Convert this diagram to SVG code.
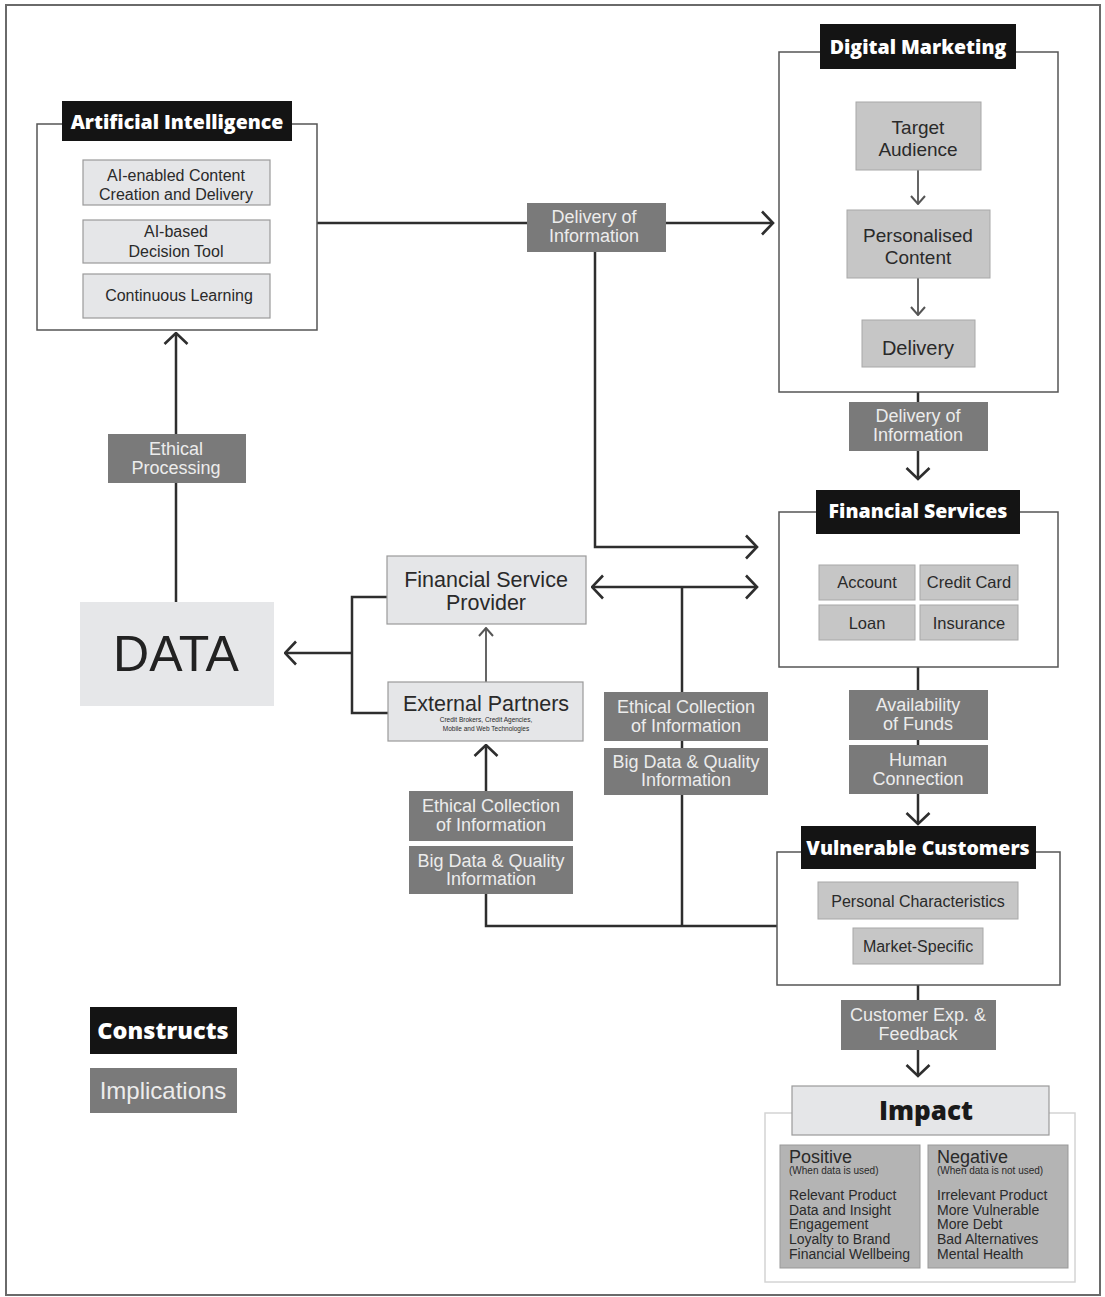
<svg xmlns="http://www.w3.org/2000/svg" width="1105" height="1297" viewBox="0 0 1105 1297">
<style>
.title{fill:#141414}
.tt{font-family:"Open Sans","DejaVu Sans",sans-serif;font-weight:800;fill:#fff;text-anchor:middle}
.frame{fill:none;stroke:#555;stroke-width:1.5}
.lite{fill:#e5e6e8;stroke:#9a9a9a;stroke-width:1.2}
.mid{fill:#c6c6c6;stroke:#a8a8a8;stroke-width:1}
.imp{fill:#7a7a7a}
.it{font-family:"Liberation Sans",Arial,sans-serif;fill:#ececec;text-anchor:middle}
.dt{font-family:"Liberation Sans",Arial,sans-serif;fill:#2a2a2a;text-anchor:middle}
.lt{font-family:"Liberation Sans",Arial,sans-serif;fill:#2a2a2a}
.con{fill:none;stroke:#2e2e2e;stroke-width:2.5}
.cons{fill:none;stroke:#555;stroke-width:1.8}
</style>
<defs>
<marker id="arr" viewBox="0 0 14 26" refX="12.5" refY="13" markerWidth="14" markerHeight="26" markerUnits="userSpaceOnUse" orient="auto-start-reverse">
<path d="M1.5,1.5 L12.5,13 L1.5,24.5" fill="none" stroke="#2e2e2e" stroke-width="2.6"/>
</marker>
<marker id="arrs" viewBox="0 0 10 16" refX="9" refY="8" markerWidth="10" markerHeight="16" markerUnits="userSpaceOnUse" orient="auto">
<path d="M1,1 L9,8 L1,15" fill="none" stroke="#555" stroke-width="2"/>
</marker>
</defs>
<rect x="0" y="0" width="1105" height="1297" fill="#fff"/>
<rect x="6" y="5" width="1094" height="1290" fill="none" stroke="#6a6a6a" stroke-width="2"/>

<g id="connectors">
<path class="con" d="M317,223 H773" marker-end="url(#arr)"/>
<path class="con" d="M595,252 V547 H757" marker-end="url(#arr)"/>
<path class="con" d="M918,392 V479" marker-end="url(#arr)"/>
<path class="con" d="M918,667 V824" marker-end="url(#arr)"/>
<path class="con" d="M918,985 V1076" marker-end="url(#arr)"/>
<path class="con" d="M176,602 V333" marker-end="url(#arr)"/>
<path class="con" d="M387,597 H352 V713 H388"/>
<path class="con" d="M352,653 H285" marker-end="url(#arr)"/>
<path class="cons" d="M486,682 V628" marker-end="url(#arrs)"/>
<path class="con" d="M592,587 H757" marker-start="url(#arr)" marker-end="url(#arr)"/>
<path class="con" d="M682,587 V926"/>
<path class="con" d="M486,791 V745" marker-end="url(#arr)"/>
<path class="con" d="M486,894 V926 H777"/>
<path class="cons" d="M918,170 V204" marker-end="url(#arrs)"/>
<path class="cons" d="M918,278 V315" marker-end="url(#arrs)"/>
</g>

<g id="artificial-intelligence">
<rect class="frame" x="37" y="124" width="280" height="206"/>
<rect class="title" x="62" y="101" width="230" height="40"/>
<text class="tt" x="177" y="129" font-size="19.5">Artificial Intelligence</text>
<rect class="lite" x="83" y="160" width="187" height="45"/>
<text class="dt" x="176" y="181" font-size="16">AI-enabled Content</text>
<text class="dt" x="176" y="200" font-size="16">Creation and Delivery</text>
<rect class="lite" x="83" y="220" width="187" height="43"/>
<text class="dt" x="176" y="237" font-size="16">AI-based</text>
<text class="dt" x="176" y="257" font-size="16">Decision Tool</text>
<rect class="lite" x="83" y="274" width="187" height="44"/>
<text class="dt" x="179" y="301" font-size="16">Continuous Learning</text>
</g>

<g id="delivery-info-1">
<rect class="imp" x="527" y="203" width="139" height="49"/>
<text class="it" x="594" y="223" font-size="18">Delivery of</text>
<text class="it" x="594" y="242" font-size="18">Information</text>
</g>

<g id="digital-marketing">
<rect class="frame" x="779" y="52" width="279" height="340"/>
<rect class="title" x="820" y="24" width="196" height="45"/>
<text class="tt" x="918" y="54" font-size="19.5">Digital Marketing</text>
<rect class="mid" x="856" y="102" width="125" height="68"/>
<text class="dt" x="918" y="134" font-size="19">Target</text>
<text class="dt" x="918" y="156" font-size="19">Audience</text>
<rect class="mid" x="847" y="210" width="143" height="68"/>
<text class="dt" x="918" y="242" font-size="19">Personalised</text>
<text class="dt" x="918" y="264" font-size="19">Content</text>
<rect class="mid" x="862" y="320" width="113" height="47"/>
<text class="dt" x="918" y="355" font-size="20">Delivery</text>
</g>

<g id="delivery-info-2">
<rect class="imp" x="849" y="402" width="139" height="49"/>
<text class="it" x="918" y="422" font-size="18">Delivery of</text>
<text class="it" x="918" y="441" font-size="18">Information</text>
</g>

<g id="financial-services">
<rect class="frame" x="779" y="512" width="279" height="155"/>
<rect class="title" x="816" y="490" width="204" height="44"/>
<text class="tt" x="918" y="518" font-size="19.5">Financial Services</text>
<rect class="mid" x="819" y="565" width="96" height="35" stroke="#888"/>
<text class="dt" x="867" y="588" font-size="16.5">Account</text>
<rect class="mid" x="920" y="565" width="98" height="35" stroke="#888"/>
<text class="dt" x="969" y="588" font-size="16.5">Credit Card</text>
<rect class="mid" x="819" y="605" width="96" height="35" stroke="#888"/>
<text class="dt" x="867" y="629" font-size="16.5">Loan</text>
<rect class="mid" x="920" y="605" width="98" height="35" stroke="#888"/>
<text class="dt" x="969" y="629" font-size="16.5">Insurance</text>
</g>

<g id="availability-funds">
<rect class="imp" x="849" y="690" width="139" height="50"/>
<text class="it" x="918" y="711" font-size="18">Availability</text>
<text class="it" x="918" y="730" font-size="18">of Funds</text>
</g>
<g id="human-connection">
<rect class="imp" x="849" y="745" width="139" height="49"/>
<text class="it" x="918" y="766" font-size="18">Human</text>
<text class="it" x="918" y="785" font-size="18">Connection</text>
</g>

<g id="vulnerable-customers">
<rect class="frame" x="777" y="852" width="283" height="133"/>
<rect class="title" x="801" y="826" width="235" height="43"/>
<text class="tt" x="918" y="855" font-size="19.5">Vulnerable Customers</text>
<rect class="mid" x="818" y="882" width="200" height="37" stroke="#888"/>
<text class="dt" x="918" y="907" font-size="16">Personal Characteristics</text>
<rect class="mid" x="853" y="928" width="130" height="36" stroke="#888"/>
<text class="dt" x="918" y="952" font-size="16">Market-Specific</text>
</g>

<g id="customer-exp">
<rect class="imp" x="841" y="1000" width="155" height="50"/>
<text class="it" x="918" y="1021" font-size="18">Customer Exp. &amp;</text>
<text class="it" x="918" y="1040" font-size="18">Feedback</text>
</g>

<g id="impact">
<rect x="765" y="1113" width="310" height="169" fill="#fff" stroke="#d4d4d4" stroke-width="1.5"/>
<rect class="lite" x="792" y="1086" width="257" height="49" fill="#eaebed" stroke="#b0b0b0"/>
<text x="926" y="1120" font-family="'Open Sans','DejaVu Sans',sans-serif" font-weight="800" font-size="26" fill="#1a1a1a" text-anchor="middle">Impact</text>
<rect x="780" y="1145" width="140" height="123" fill="#b4b4b4" stroke="#999" stroke-width="1"/>
<text class="lt" x="789" y="1163" font-size="18">Positive</text>
<text class="lt" x="789" y="1174" font-size="10">(When data is used)</text>
<text class="lt" x="789" y="1200" font-size="14">Relevant Product</text>
<text class="lt" x="789" y="1215" font-size="14">Data and Insight</text>
<text class="lt" x="789" y="1229" font-size="14">Engagement</text>
<text class="lt" x="789" y="1244" font-size="14">Loyalty to Brand</text>
<text class="lt" x="789" y="1259" font-size="14">Financial Wellbeing</text>
<rect x="928" y="1145" width="140" height="123" fill="#b4b4b4" stroke="#999" stroke-width="1"/>
<text class="lt" x="937" y="1163" font-size="18">Negative</text>
<text class="lt" x="937" y="1174" font-size="10">(When data is not used)</text>
<text class="lt" x="937" y="1200" font-size="14">Irrelevant Product</text>
<text class="lt" x="937" y="1215" font-size="14">More Vulnerable</text>
<text class="lt" x="937" y="1229" font-size="14">More Debt</text>
<text class="lt" x="937" y="1244" font-size="14">Bad Alternatives</text>
<text class="lt" x="937" y="1259" font-size="14">Mental Health</text>
</g>

<g id="ethical-processing">
<rect class="imp" x="108" y="434" width="138" height="49"/>
<text class="it" x="176" y="455" font-size="18">Ethical</text>
<text class="it" x="176" y="474" font-size="18">Processing</text>
</g>

<g id="data">
<rect x="80" y="602" width="194" height="104" fill="#e6e7e9"/>
<text x="176" y="671" font-family="'Liberation Sans',Arial,sans-serif" font-size="50" fill="#222" text-anchor="middle">DATA</text>
</g>

<g id="financial-service-provider">
<rect class="lite" x="387" y="556" width="199" height="68"/>
<text class="dt" x="486" y="587" font-size="21.5">Financial Service</text>
<text class="dt" x="486" y="610" font-size="21.5">Provider</text>
</g>

<g id="external-partners">
<rect class="lite" x="388" y="682" width="195" height="59"/>
<text class="dt" x="486" y="711" font-size="21.5">External Partners</text>
<text class="dt" x="486" y="722" font-size="6.5">Credit Brokers, Credit Agencies,</text>
<text class="dt" x="486" y="731" font-size="6.5">Mobile and Web Technologies</text>
</g>

<g id="ethical-collection-center">
<rect class="imp" x="604" y="692" width="164" height="49"/>
<text class="it" x="686" y="713" font-size="18">Ethical Collection</text>
<text class="it" x="686" y="732" font-size="18">of Information</text>
</g>
<g id="big-data-center">
<rect class="imp" x="604" y="748" width="164" height="47"/>
<text class="it" x="686" y="768" font-size="18">Big Data &amp; Quality</text>
<text class="it" x="686" y="786" font-size="18">Information</text>
</g>

<g id="ethical-collection-left">
<rect class="imp" x="409" y="791" width="164" height="50"/>
<text class="it" x="491" y="812" font-size="18">Ethical Collection</text>
<text class="it" x="491" y="831" font-size="18">of Information</text>
</g>
<g id="big-data-left">
<rect class="imp" x="409" y="846" width="164" height="48"/>
<text class="it" x="491" y="867" font-size="18">Big Data &amp; Quality</text>
<text class="it" x="491" y="885" font-size="18">Information</text>
</g>

<g id="legend">
<rect class="title" x="90" y="1007" width="147" height="47"/>
<text class="tt" x="163" y="1039" font-size="23.5">Constructs</text>
<rect class="imp" x="90" y="1068" width="147" height="45" fill="#878787"/>
<text class="it" x="163" y="1099" font-size="24" fill="#e0e0e0">Implications</text>
</g>
</svg>
